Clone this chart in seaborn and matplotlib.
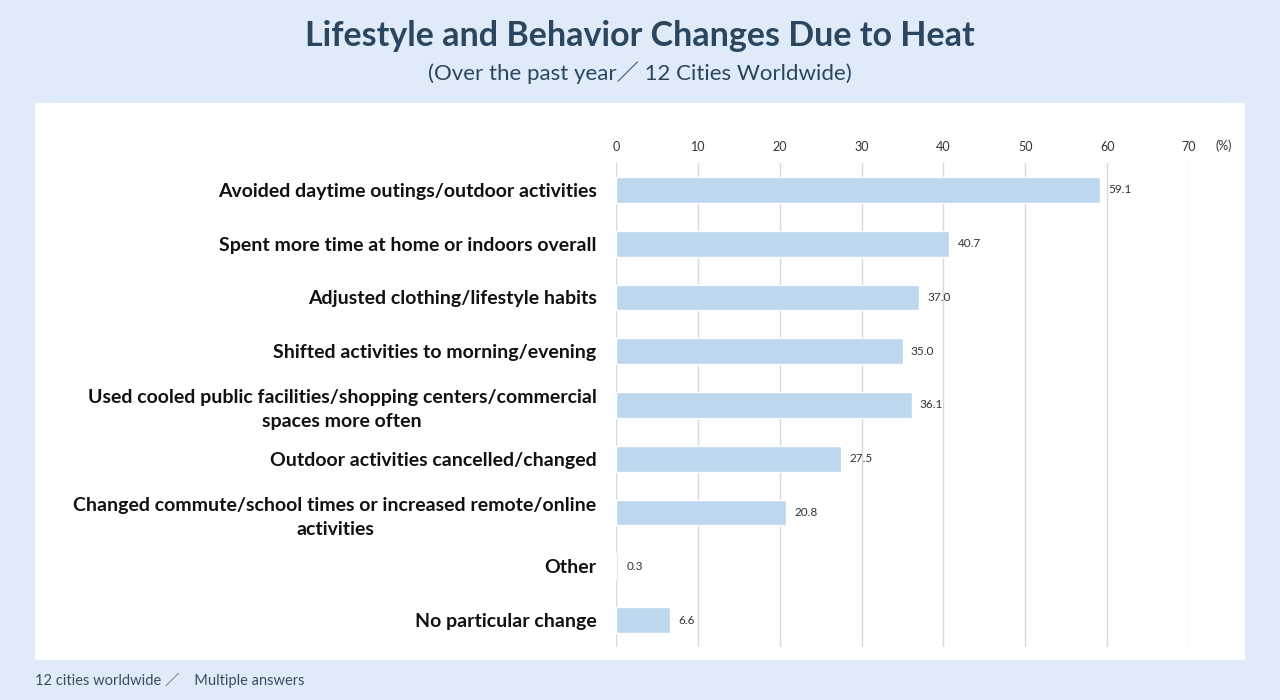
import matplotlib
matplotlib.use("Agg")
import matplotlib.pyplot as plt
from matplotlib.patches import Rectangle
import seaborn as sns
import pandas as pd

# data
categories = [
    "Avoided daytime outings/outdoor activities",
    "Spent more time at home or indoors overall",
    "Adjusted clothing/lifestyle habits",
    "Shifted activities to morning/evening",
    "Used cooled public facilities/shopping centers/commercial\nspaces more often",
    "Outdoor activities cancelled/changed",
    "Changed commute/school times or increased remote/online\nactivities",
    "Other",
    "No particular change",
]
values = [59.1, 40.7, 37.0, 35.0, 36.1, 27.5, 20.8, 0.3, 6.6]
x_ticks = [0, 10, 20, 30, 40, 50, 60, 70]

df = pd.DataFrame({"item": categories, "pct": values})

sns.set_theme(style="white")
plt.rcParams["font.family"] = ["Lato", "Noto Sans CJK JP", "DejaVu Sans"]

bg = "#dfebf8"
bar_color = "#bdd7ee"
title_color = "#2b465e"

fig = plt.figure(figsize=(12.8, 7), dpi=100, facecolor=bg)

# white panel behind the chart
fig.patches.append(Rectangle((35 / 1280, 1 - 660 / 700), 1210 / 1280, 557 / 700,
                             transform=fig.transFigure, facecolor="white",
                             edgecolor="none", zorder=-5))

ax = fig.add_axes([616 / 1280, 1 - 647 / 700, 573 / 1280, 484 / 700])
ax.set_facecolor("none")

sns.barplot(data=df, x="pct", y="item", color=bar_color, width=0.48,
            saturation=1, ax=ax, zorder=3)

ax.set_xlim(0, 70)
ax.set_xticks(x_ticks)
ax.xaxis.tick_top()
ax.tick_params(axis="x", length=0, pad=7, labelsize=9, labelcolor="#333333")
ax.tick_params(axis="y", length=0, pad=14, labelsize=14, labelcolor="#111111")
for lbl in ax.get_yticklabels():
    lbl.set_fontweight("bold")
    lbl.set_multialignment("center")
    lbl.set_linespacing(1.5)
ax.grid(axis="x", color="#d9d9d9", linewidth=1, zorder=0)
ax.set_axisbelow(True)
for s in ax.spines.values():
    s.set_visible(False)
ax.set_xlabel("")
ax.set_ylabel("")

ax.bar_label(ax.containers[0], fmt="%.1f", padding=6, fontsize=8.5, color="#333333")

fig.text(1224 / 1280, 1 - 146 / 700, "(%)", ha="center", va="center",
         fontsize=9, color="#333333")

fig.text(0.5, 1 - 36 / 700, "Lifestyle and Behavior Changes Due to Heat",
         ha="center", va="center", fontsize=24.5, fontweight="bold", color=title_color)
fig.text(0.5, 1 - 73 / 700, "(Over the past year／ 12 Cities Worldwide)",
         ha="center", va="center", fontsize=16, color=title_color)
fig.text(35 / 1280, 1 - 680 / 700, "12 cities worldwide ／　Multiple answers",
         ha="left", va="center", fontsize=10.5, color="#3a4e60")

fig.savefig("out.png", dpi=100, facecolor=bg)
